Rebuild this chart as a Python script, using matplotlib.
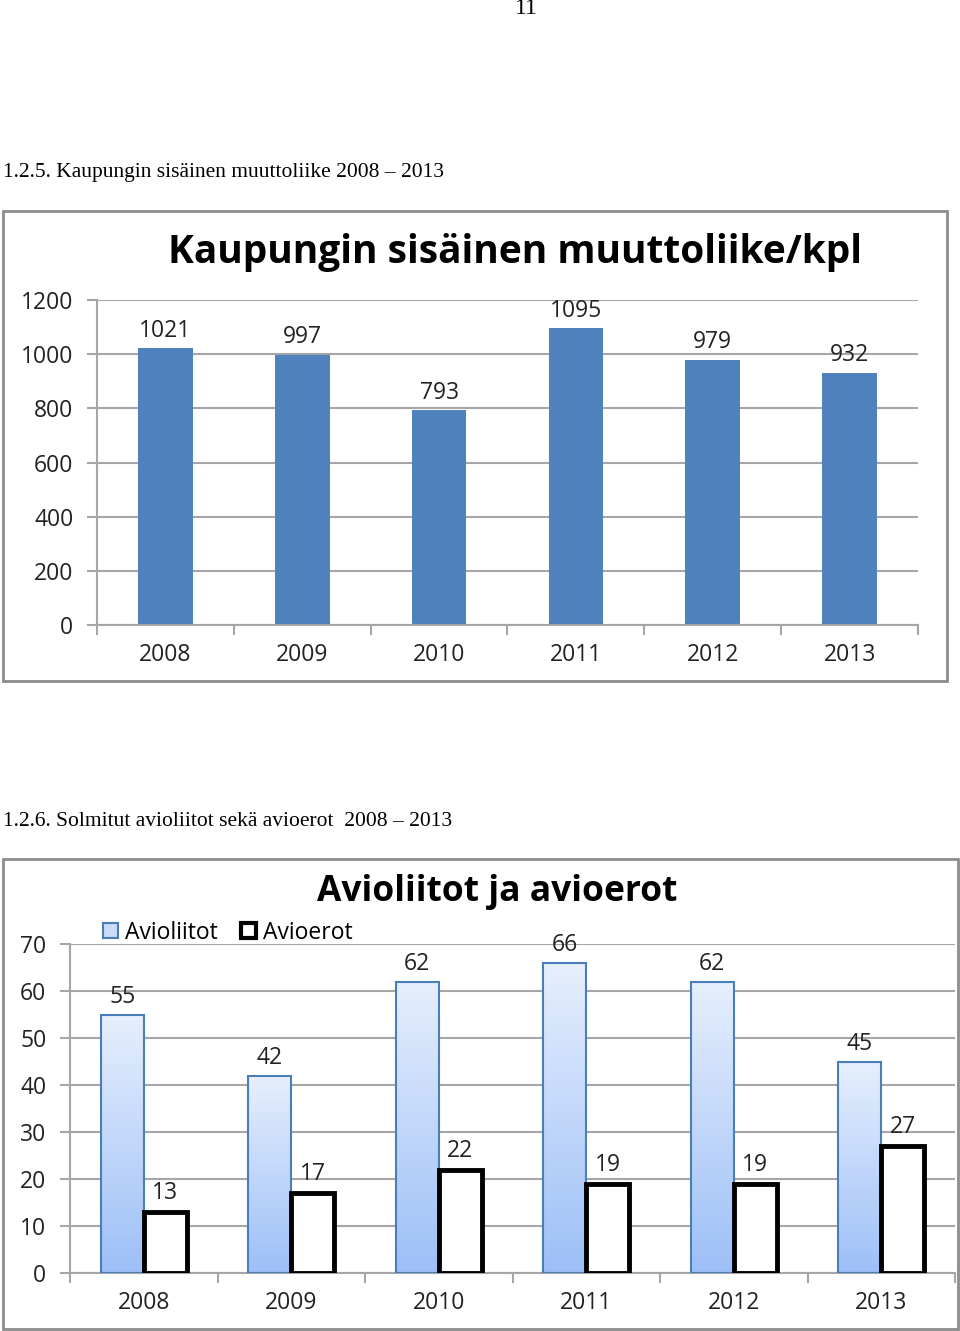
import numpy as np
import matplotlib
matplotlib.use('Agg')
import matplotlib.pyplot as plt
from matplotlib.patches import Rectangle, Patch
from matplotlib.colors import LinearSegmentedColormap

# Data
years = ['2008', '2009', '2010', '2011', '2012', '2013']
muutto = [1021, 997, 793, 1095, 979, 932]
avioliitot = [55, 42, 62, 66, 62, 45]
avioerot = [13, 17, 22, 19, 19, 27]

W, H = 960, 1331
FONT = 'Open Sans'
GRID = '#a6a6a6'
FS = 16.5

fig = plt.figure(figsize=(W / 100, H / 100), dpi=100)
fig.patch.set_facecolor('white')


def fig_box(x0, y0, x1, y1):
    # pixel box (top-left origin) -> figure fraction rect
    return [x0 / W, 1 - y1 / H, (x1 - x0) / W, (y1 - y0) / H]


def frame(x0, y0, x1, y1):
    l, b, w, h = fig_box(x0, y0, x1, y1)
    fig.patches.append(Rectangle((l, b), w, h, transform=fig.transFigure,
                                 fill=False, edgecolor='#8c8c8c', linewidth=2))


def style_axes(ax, ymax, step):
    n = len(years)
    ax.set_xlim(-0.5, n - 0.5)
    ax.set_ylim(0, ymax)
    ax.set_yticks(np.arange(0, ymax + 1, step))
    ax.yaxis.grid(True, color=GRID, linewidth=1.5)
    ax.set_axisbelow(True)
    for s in ['top', 'right']:
        ax.spines[s].set_visible(False)
    for s in ['left', 'bottom']:
        ax.spines[s].set_color(GRID)
        ax.spines[s].set_linewidth(1.5)
    ax.tick_params(axis='y', length=7, width=1.5, color=GRID, pad=10,
                   labelsize=FS, labelcolor='#222222')
    # category ticks at boundaries, labels centered
    ax.set_xticks(np.arange(-0.5, n, 1))
    ax.set_xticklabels([])
    ax.tick_params(axis='x', which='major', length=7, width=1.5, color=GRID)
    ax.set_xticks(np.arange(n), minor=True)
    ax.set_xticklabels(years, minor=True)
    ax.tick_params(axis='x', which='minor', length=0, pad=13,
                   labelsize=FS, labelcolor='#222222')
    for lab in ax.get_xticklabels(minor=True) + ax.get_yticklabels():
        lab.set_fontfamily(FONT)


# Page texts
fig.text(526 / W, 1 - 9 / H, '11', ha='center', va='center',
         fontfamily='Liberation Serif', fontsize=17)
fig.text(3 / W, 1 - 173 / H, '1.2.5. Kaupungin sisäinen muuttoliike 2008 – 2013',
         ha='left', va='center', fontfamily='Liberation Serif', fontsize=15.5)
fig.text(3 / W, 1 - 821 / H, '1.2.6. Solmitut avioliitot sekä avioerot  2008 – 2013',
         ha='left', va='center', fontfamily='Liberation Serif', fontsize=15.5)

# ---- Chart 1 ----
frame(3, 211, 947, 681)
fig.text(515 / W, 1 - 253 / H, 'Kaupungin sisäinen muuttoliike/kpl', ha='center', va='center',
         fontfamily=FONT, fontweight='bold', fontsize=28)
ax1 = fig.add_axes(fig_box(97, 300, 918, 625))
x = np.arange(len(years))
bars = ax1.bar(x, muutto, width=0.4, color='#4f81bd', edgecolor='none')
for xi, v in zip(x, muutto):
    ax1.annotate(str(v), (xi, v), xytext=(0, 4), textcoords='offset points',
                 ha='center', va='bottom', fontfamily=FONT, fontsize=FS, color='#222222')
style_axes(ax1, 1200, 200)

# ---- Chart 2 ----
frame(3, 859, 958, 1329)
fig.text(497 / W, 1 - 892 / H, 'Avioliitot ja avioerot', ha='center', va='center',
         fontfamily=FONT, fontweight='bold', fontsize=25.5)
ax2 = fig.add_axes(fig_box(70, 944, 955, 1273))
bw = 0.29
cmap = LinearSegmentedColormap.from_list('grad', ['#9dbff7', '#e6effd'])
grad = np.linspace(0, 1, 256).reshape(-1, 1)
b1 = ax2.bar(x - bw / 2, avioliitot, width=bw, color='none', edgecolor='#4a7ebb',
             linewidth=1.5, zorder=3)
for rect in b1:
    x0 = rect.get_x()
    h = rect.get_height()
    ax2.imshow(grad, cmap=cmap, origin='lower', aspect='auto',
               extent=(x0, x0 + rect.get_width(), 0, h), zorder=2)
b2 = ax2.bar(x + bw / 2, avioerot, width=bw, color='white', edgecolor='black',
             linewidth=3.5, zorder=3)
for xi, v in zip(x, avioliitot):
    ax2.annotate(str(v), (xi - bw / 2, v), xytext=(0, 4), textcoords='offset points',
                 ha='center', va='bottom', fontfamily=FONT, fontsize=FS, color='#222222')
for xi, v in zip(x, avioerot):
    ax2.annotate(str(v), (xi + bw / 2, v), xytext=(0, 5), textcoords='offset points',
                 ha='center', va='bottom', fontfamily=FONT, fontsize=FS, color='#222222')
style_axes(ax2, 70, 10)

handles = [Patch(facecolor='#c9dcf8', edgecolor='#4a7ebb', linewidth=1.5),
           Patch(facecolor='white', edgecolor='black', linewidth=3)]
ax2.legend(handles, ['Avioliitot', 'Avioerot'], loc='lower left',
           bbox_to_anchor=(22 / 885, 0.963), ncol=2, frameon=False,
           handlelength=0.65, handleheight=0.65, handletextpad=0.3, columnspacing=1.0,
           borderaxespad=0.1, prop={'family': FONT, 'size': FS})

fig.savefig('out.png', dpi=100)
